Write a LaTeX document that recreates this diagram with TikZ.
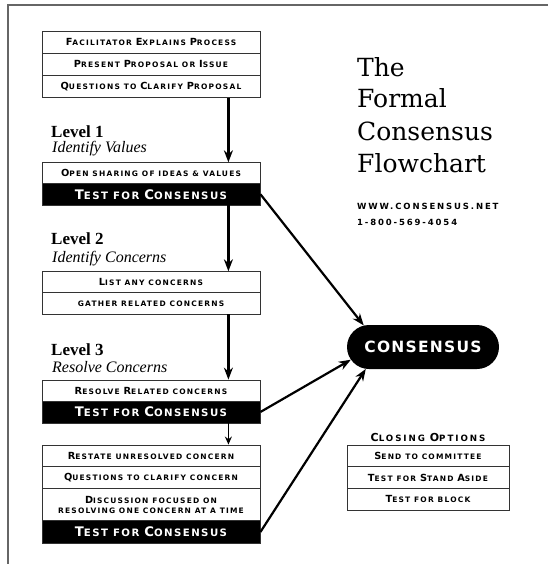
\documentclass[tikz,border=0pt]{standalone}
\usepackage{fontspec}
\setmainfont{Liberation Serif}
\newfontfamily\titlefont{DejaVu Serif}
\newfontfamily\cpfont[LetterSpace=16]{DejaVu Sans}
\newfontfamily\cpwfont[LetterSpace=22]{DejaVu Sans}
\newfontfamily\cpbfont[LetterSpace=14]{DejaVu Sans}
\newfontfamily\cpcfont[LetterSpace=8]{DejaVu Sans}
\usetikzlibrary{shapes.misc,arrows.meta}
\newcommand\K[1]{{\fontsize{9.8}{10}\selectfont #1}}
\newcommand\KK[1]{{\fontsize{13.2}{12}\selectfont #1}}
\tikzset{
  row/.style={draw=black!80, line width=0.8pt, minimum width=218pt, inner sep=0pt,
    text=black, font=\cpfont\bfseries\fontsize{7.5}{9}\selectfont},
  blk/.style={row, fill=black, text=white, font=\cpbfont\bfseries\fontsize{10.2}{10}\selectfont},
  opt/.style={row, minimum width=162pt, minimum height=21.7pt},
  lvl/.style={anchor=base west, inner sep=0pt, font=\bfseries\fontsize{17}{17}\selectfont},
  sub/.style={anchor=base west, inner sep=0pt, font=\itshape\fontsize{16}{16}\selectfont},
  ttl/.style={anchor=base west, inner sep=0pt, font=\titlefont\fontsize{25}{25}\selectfont},
  web/.style={anchor=base west, inner sep=0pt, font=\cpwfont\bfseries\fontsize{8.5}{9}\selectfont},
  arr/.style={-{Stealth[length=12pt,width=9pt]}, line width=2.2pt},
  sarr/.style={-{Stealth[length=8pt,width=7pt]}, line width=1.4pt}
}
\begin{document}
\begin{tikzpicture}[x=1pt,y=-1pt]
\useasboundingbox (0,0) rectangle (548,564);
\draw[black!60, line width=1.4pt] (548,5) -- (8,5) -- (8,564);

% top block
\node[row, minimum height=22pt] (a1) at (151,42) {\K{F}ACILITATOR \K{E}XPLAINS \K{P}ROCESS};
\node[row, minimum height=22.3pt] (a2) at (151,64.2) {\K{P}RESENT \K{P}ROPOSAL OR \K{I}SSUE};
\node[row, minimum height=21.8pt] (a3) at (151,86.4) {\K{Q}UESTIONS TO \K{C}LARIFY \K{P}ROPOSAL};

% level 1
\node[lvl] (l1) at (51,138) {Level 1};
\node[sub] (s1) at (52,153) {Identify Values};
\node[row, minimum height=20.6pt] (b1) at (151,173) {\K{O}PEN SHARING OF IDEAS \& VALUES};
\node[blk, minimum height=21.7pt] (b2) at (151,194.2) {\KK{T}EST FOR \KK{C}ONSENSUS};

% level 2
\node[lvl] (l2) at (51,244) {Level 2};
\node[sub] (s2) at (52,262) {Identify Concerns};
\node[row, minimum height=21pt] (c1) at (151,282.2) {\K{L}IST ANY CONCERNS};
\node[row, minimum height=21.3pt] (c2) at (151,303.4) {GATHER RELATED CONCERNS};

% level 3
\node[lvl] (l3) at (51,355) {Level 3};
\node[sub] (s3) at (52,372) {Resolve Concerns};
\node[row, minimum height=21pt] (d1) at (151,390.5) {\K{R}ESOLVE \K{R}ELATED CONCERNS};
\node[blk, minimum height=22pt] (d2) at (151,412) {\KK{T}EST FOR \KK{C}ONSENSUS};

% bottom block
\node[row, minimum height=21.7pt] (e1) at (151,455.8) {\K{R}ESTATE UNRESOLVED CONCERN};
\node[row, minimum height=21.6pt] (e2) at (151,477.5) {\K{Q}UESTIONS TO CLARIFY CONCERN};
\node[row, minimum height=32.4pt, align=center] (e3) at (151,504.5) {\K{D}ISCUSSION FOCUSED ON\\[1pt]RESOLVING ONE CONCERN AT A TIME};
\node[blk, minimum height=22.6pt] (e4) at (151,532) {\KK{T}EST FOR \KK{C}ONSENSUS};

% title
\node[ttl] (t1) at (357,77) {The};
\node[ttl] (t2) at (357,108) {Formal};
\node[ttl] (t3) at (357,141) {Consensus};
\node[ttl] (t4) at (357,172) {Flowchart};
\node[web] (w1) at (357,209.5) {WWW.CONSENSUS.NET};
\node[web] (w2) at (357,225.5) {1-800-569-4054};

% consensus
\node[rounded rectangle, fill=black, minimum width=152pt, minimum height=44pt, inner sep=0pt,
  text=white, font=\cpcfont\bfseries\fontsize{15.5}{16}\selectfont] (cons) at (423,347) {CONSENSUS};

% closing options
\node[font=\cpwfont\bfseries\fontsize{8.7}{9}\selectfont, inner sep=0pt] (co) at (428,437) {{\fontsize{11}{11}\selectfont C}LOSING {\fontsize{11}{11}\selectfont O}PTIONS};
\node[opt] (f1) at (428,455.8) {\K{S}END TO COMMITTEE};
\node[opt] (f2) at (428,477.5) {\K{T}EST FOR \K{S}TAND \K{A}SIDE};
\node[opt] (f3) at (428,499.2) {\K{T}EST FOR BLOCK};

% connectors
\draw[arr] ([xshift=-32pt]a3.south east) -- ([xshift=-32pt]b1.north east);
\draw[arr] ([xshift=-32pt]b2.south east) -- ([xshift=-32pt]c1.north east);
\draw[arr] ([xshift=-32pt]c2.south east) -- ([xshift=-32pt]d1.north east);
\draw[sarr] ([xshift=-32pt]d2.south east) -- ([xshift=-32pt]e1.north east);
\draw[arr] (b2.east) -- (cons.160);
\draw[arr] (d2.east) -- (cons.190);
\draw[arr] (e4.east) -- (cons.201);
\end{tikzpicture}
\end{document}
